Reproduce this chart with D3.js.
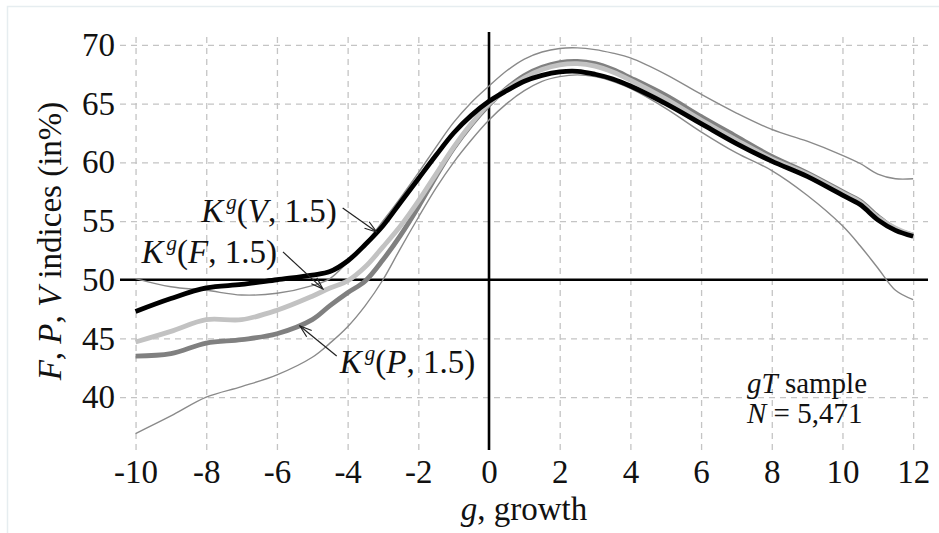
<!DOCTYPE html>
<html>
<head>
<meta charset="utf-8">
<script src="https://cdn.jsdelivr.net/npm/d3@7/dist/d3.min.js"></script>
<style>
    body { margin: 0; background: #fff; }
    svg { display: block; font-family: "Liberation Serif", "Times New Roman", serif; }
</style>
</head>
<body>
<div id="chart"></div>
<script>
// growth grid (x values) shared by every curve
const growth = [-10, -9, -8, -7, -6, -5, -4.5, -4, -3.5, -3, -2.5, -2, -1.5, -1, -0.5, 0, 0.5, 1, 1.5, 2, 2.5, 3, 3.5, 4, 5, 6, 7, 8, 9, 10, 10.5, 11, 11.5, 12];

const seriesV = [47.3, 48.4, 49.3, 49.6, 50.0, 50.4, 50.7, 51.6, 53.0, 54.6, 56.6, 58.6, 60.6, 62.5, 64.0, 65.2, 66.1, 66.9, 67.4, 67.7, 67.75, 67.5, 67.1, 66.5, 65.0, 63.3, 61.6, 60.1, 58.8, 57.2, 56.4, 55.1, 54.2, 53.7];
const seriesF = [44.7, 45.6, 46.6, 46.6, 47.4, 48.6, 49.3, 49.9, 51.1, 52.8, 54.6, 56.7, 59.0, 61.3, 63.3, 65.0, 66.2, 67.2, 67.9, 68.3, 68.4, 68.2, 67.7, 67.0, 65.4, 63.6, 61.9, 60.3, 59.0, 57.4, 56.6, 55.3, 54.4, 53.8];
const seriesP = [43.5, 43.7, 44.6, 44.9, 45.4, 46.6, 47.8, 48.9, 49.9, 51.7, 53.8, 56.2, 58.8, 61.2, 63.2, 64.9, 66.3, 67.4, 68.1, 68.5, 68.6, 68.4, 67.9, 67.2, 65.7, 63.9, 62.2, 60.5, 59.1, 57.5, 56.7, 55.4, 54.3, 53.8];
const bandUpper = [50.1, 49.4, 49.1, 48.7, 48.85, 49.5, 50.1, 51.5, 53.1, 55.0, 57.0, 59.1, 61.3, 63.4, 65.1, 66.5, 67.8, 68.8, 69.4, 69.7, 69.75, 69.6, 69.3, 68.9, 67.5, 65.8, 64.2, 62.8, 61.8, 60.6, 59.9, 59.0, 58.6, 58.6];
const bandLower = [36.9, 38.4, 40.0, 40.9, 41.9, 43.4, 44.6, 46.0, 47.8, 50.0, 52.7, 55.3, 57.8, 60.0, 61.9, 63.6, 65.0, 66.1, 66.9, 67.3, 67.45, 67.3, 66.9, 66.3, 64.6, 62.6, 60.8, 59.3, 57.2, 54.6, 52.9, 51.0, 49.1, 48.3];

const xTicks = [-10, -8, -6, -4, -2, 0, 2, 4, 6, 8, 10, 12];
const yTicks = [40, 45, 50, 55, 60, 65, 70];

const width = 939;
const height = 533;
const margin = {top: 32, right: 11, bottom: 83, left: 120};
const fontSize = 33;

const x = d3.scaleLinear()
    .domain([-10.44, 12.42])
    .range([margin.left, width - margin.right]);

const y = d3.scaleLinear()
    .domain([35.5, 71.1])
    .range([height - margin.bottom, margin.top]);

const svg = d3.select('#chart')
    .append('svg')
    .attr('width', width)
    .attr('height', height);

// faint page frame
svg.append('rect')
    .attr('x', 7.5).attr('y', 6.5)
    .attr('width', width).attr('height', height)
    .attr('fill', 'none')
    .attr('stroke', '#e6edf0')
    .attr('stroke-width', 1.5);

const plotH = y.range()[0] - y.range()[1];
const plotW = x.range()[1] - x.range()[0];

// dashed grid
svg.append('g')
    .attr('class', 'grid x')
    .attr('transform', `translate(0,${y.range()[0]})`)
    .call(d3.axisBottom(x).tickValues(xTicks.filter(d => d !== 0)).tickSize(-plotH).tickFormat(''))
    .call(g => g.select('.domain').remove());

svg.append('g')
    .attr('class', 'grid y')
    .attr('transform', `translate(${x.range()[0]},0)`)
    .call(d3.axisLeft(y).tickValues(yTicks.filter(d => d !== 50)).tickSize(-plotW).tickFormat(''))
    .call(g => g.select('.domain').remove());

svg.selectAll('.grid line')
    .attr('stroke', '#c4c4c4')
    .attr('stroke-width', 1.3)
    .attr('stroke-dasharray', '6,5');

// solid reference axes at g = 0 and 50%
svg.append('line')
    .attr('x1', x.range()[0]).attr('x2', x.range()[1])
    .attr('y1', y(50)).attr('y2', y(50))
    .attr('stroke', '#000').attr('stroke-width', 2.6);

svg.append('line')
    .attr('x1', x(0)).attr('x2', x(0))
    .attr('y1', y.range()[0]).attr('y2', y.range()[1])
    .attr('stroke', '#000').attr('stroke-width', 2.6);

// tick labels
svg.append('g')
    .attr('class', 'axis y')
    .attr('transform', `translate(${x.range()[0]},0)`)
    .call(d3.axisLeft(y).tickValues(yTicks).tickSize(0).tickPadding(5))
    .call(g => g.select('.domain').remove());

svg.append('g')
    .attr('class', 'axis x')
    .attr('transform', `translate(0,${y.range()[0]})`)
    .call(d3.axisBottom(x).tickValues(xTicks).tickSize(0).tickPadding(10).tickFormat(d => String(d)))
    .call(g => g.select('.domain').remove());

svg.selectAll('.axis')
    .attr('font-family', null)
    .attr('font-size', fontSize);
svg.selectAll('.axis text').attr('fill', '#111');

// curves
const line = d3.line()
    .x((d, i) => x(growth[i]))
    .y(d => y(d))
    .curve(d3.curveCatmullRom.alpha(0.5));

const curves = [
    {values: bandLower, color: '#8a8a8a', width: 1.4},
    {values: bandUpper, color: '#8a8a8a', width: 1.4},
    {values: seriesP, color: '#808080', width: 4.8},
    {values: seriesF, color: '#c2c2c2', width: 4.8},
    {values: seriesV, color: '#000000', width: 4.8}
];

svg.selectAll('.curve')
    .data(curves)
    .enter().append('path')
    .attr('class', 'curve')
    .attr('fill', 'none')
    .attr('stroke', d => d.color)
    .attr('stroke-width', d => d.width)
    .attr('stroke-linejoin', 'round')
    .attr('d', d => line(d.values));

// annotations
svg.append('defs').append('marker')
    .attr('id', 'arrow')
    .attr('markerUnits', 'userSpaceOnUse')
    .attr('markerWidth', 14).attr('markerHeight', 10)
    .attr('refX', 13).attr('refY', 5)
    .attr('orient', 'auto')
    .append('path')
    .attr('d', 'M1,1 L13,5 L1,9')
    .attr('fill', 'none')
    .attr('stroke', '#222')
    .attr('stroke-width', 1.2);

const labels = [
    {name: 'V', g: -4.31, v: 54.92, anchor: 'end', from: [-4.14, 56.12], to: [-3.18, 54.07]},
    {name: 'F', g: -6.0, v: 51.43, anchor: 'end', from: [-5.83, 52.37], to: [-4.7, 49.22]},
    {name: 'P', g: -4.22, v: 42.06, anchor: 'start', from: [-4.31, 43.5], to: [-5.35, 46.06]}
];

labels.forEach(l => {
    svg.append('line')
        .attr('x1', x(l.from[0])).attr('y1', y(l.from[1]))
        .attr('x2', x(l.to[0])).attr('y2', y(l.to[1]))
        .attr('stroke', '#222')
        .attr('stroke-width', 1.2)
        .attr('marker-end', 'url(#arrow)');

    const t = svg.append('text')
        .attr('x', x(l.g)).attr('y', y(l.v))
        .attr('text-anchor', l.anchor)
        .attr('font-size', fontSize)
        .attr('fill', '#111');
    t.append('tspan').attr('font-style', 'italic').text('K');
    t.append('tspan').attr('font-style', 'italic').attr('font-size', 21).attr('dy', -13).attr('dx', 3).text('g');
    t.append('tspan').attr('dy', 13).text('(');
    t.append('tspan').attr('font-style', 'italic').text(l.name);
    t.append('tspan').text(', 1.5)');
});

const note = svg.append('text')
    .attr('x', x(7.3)).attr('y', y(40.36))
    .attr('font-size', 29)
    .attr('fill', '#111');
note.append('tspan').attr('font-style', 'italic').text('gT');
note.append('tspan').text(' sample');

const noteN = svg.append('text')
    .attr('x', x(7.3)).attr('y', y(37.8))
    .attr('font-size', 29)
    .attr('fill', '#111');
noteN.append('tspan').attr('font-style', 'italic').text('N');
noteN.append('tspan').text(' = 5,471');

// axis titles
const xTitle = svg.append('text')
    .attr('x', (x.range()[0] + x.range()[1]) / 2)
    .attr('y', 520)
    .attr('text-anchor', 'middle')
    .attr('font-size', fontSize)
    .attr('fill', '#111');
xTitle.append('tspan').attr('font-style', 'italic').text('g');
xTitle.append('tspan').text(', growth');

const yTitle = svg.append('text')
    .attr('transform', `translate(61,${(y.range()[0] + y.range()[1]) / 2}) rotate(-90)`)
    .attr('text-anchor', 'middle')
    .attr('font-size', fontSize)
    .attr('fill', '#111');
yTitle.append('tspan').attr('font-style', 'italic').text('F');
yTitle.append('tspan').text(', ');
yTitle.append('tspan').attr('font-style', 'italic').text('P');
yTitle.append('tspan').text(', ');
yTitle.append('tspan').attr('font-style', 'italic').text('V');
yTitle.append('tspan').text(' indices (in%)');
</script>
</body>
</html>
